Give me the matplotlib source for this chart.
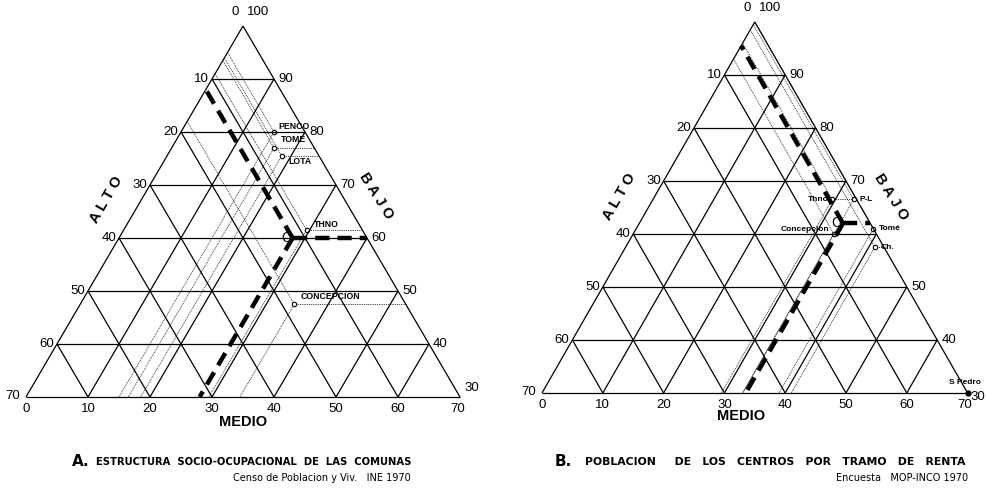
import numpy as np
import matplotlib
matplotlib.use("Agg")
import matplotlib.pyplot as plt

plt.rcParams['font.family'] = ['Liberation Sans', 'DejaVu Sans']

# A. estructura socio-ocupacional de las comunas (alto, medio, bajo in %)
comunas = ["PENCO", "TOME", "LOTA", "THNO", "CONCEPCION"]
alto_a = [5, 6.5, 6, 9, 18]
medio_a = [15, 16.5, 18.5, 29.5, 34.5]
bajo_a = [80, 77, 75.5, 61.5, 47.5]
media_a = (12, 28, 60)

# B. poblacion de los centros por tramo de renta
centros = ["Thno", "P-L", "Tomé", "Concepcion", "Ch.", "S Pedro"]
alto_b = [4, 0.5, 0, 7, 1.5, 0]
medio_b = [29.5, 33, 39, 33, 41, 70]
bajo_b = [66.5, 66.5, 61, 60, 57.5, 30]
media_b = (4.5, 33.5, 62)

ticks = [0, 10, 20, 30, 40, 50, 60, 70]
BMIN = 30   # diagram only shows bajo >= 30


def xy(a, m, b):
    a, m, b = np.asarray(a, float), np.asarray(m, float), np.asarray(b, float)
    return m + (b - BMIN) / 2.0, (b - BMIN) * np.sqrt(3) / 2.0


def line(ax, p, q, **kw):
    x0, y0 = xy(*p)
    x1, y1 = xy(*q)
    ax.plot([x0, x1], [y0, y1], **kw)


def note(ax, s, p, dx, dy, ha='center', va='center', **kw):
    ax.annotate(s, xy(*p), xytext=(dx, dy), textcoords='offset points', ha=ha, va=va, **kw)


def grid(ax):
    k = dict(color='black', lw=0.9, solid_capstyle='butt')
    line(ax, (70, 0, 30), (0, 70, 30), **k)
    line(ax, (70, 0, 30), (0, 0, 100), **k)
    line(ax, (0, 70, 30), (0, 0, 100), **k)
    for v in ticks[1:-1]:
        line(ax, (v, 0, 100 - v), (0, v, 100 - v), **k)      # bajo const
        line(ax, (v, 0, 100 - v), (v, 70 - v, 30), **k)      # alto const
        line(ax, (70 - v, v, 30), (0, v, 100 - v), **k)      # medio const


def tick_labels(ax, skip_right=(), corner30=(3, 2, 'left', 'bottom'), fs=9.5):
    for v in ticks[1:-1]:
        note(ax, str(v), (v, 0, 100 - v), -2, 0, ha='right', fontsize=fs)
        if 100 - v not in skip_right:
            note(ax, str(100 - v), (0, v, 100 - v), 3, 0, ha='left', fontsize=fs)
        note(ax, str(v), (70 - v, v, 30), 0, -4, va='top', fontsize=fs)
    note(ax, "0", (0, 0, 100), -3, 6, ha='right', va='bottom', fontsize=fs)
    note(ax, "100", (0, 0, 100), 3, 6, ha='left', va='bottom', fontsize=fs)
    note(ax, "70", (70, 0, 30), -4, 1, ha='right', fontsize=fs)
    note(ax, "0", (70, 0, 30), 0, -4, va='top', fontsize=fs)
    note(ax, "70", (0, 70, 30), -2, -4, va='top', fontsize=fs)
    dx, dy, ha, va = corner30
    note(ax, "30", (0, 70, 30), dx, dy, ha=ha, va=va, fontsize=fs)


def reading_lines(ax, al, me, ba):
    k = dict(color='black', lw=0.6, ls=(0, (1, 1.2)))
    for a, m, b in zip(al, me, ba):
        line(ax, (a, m, b), (a, 0, 100 - a), **k)
        line(ax, (a, m, b), (70 - m, m, 30), **k)
        line(ax, (a, m, b), (0, 100 - b, b), **k)
    x, y = xy(al, me, ba)
    ax.plot(x, y, 'o', ms=3.2, mfc='white', mec='black', mew=0.8)


def mean_lines(ax, c):
    a, m, b = c
    k = dict(color='black', lw=3.2, ls=(0, (3.2, 1.8)), dash_capstyle='butt')
    line(ax, c, (a, 0, 100 - a), **k)
    line(ax, c, (70 - m, m, 30), **k)
    line(ax, c, (0, 100 - b, b), **k)
    note(ax, "C", c, -1, 0, ha='right', fontsize=10)


def titles(ax, alto_off, bajo_off, medio_p, medio_off):
    note(ax, "A L T O", (35, 0, 65), *alto_off, rotation=60, fontsize=10.5, fontweight='bold')
    note(ax, "B A J O", (0, 35, 65), *bajo_off, rotation=-58, fontsize=10.5, fontweight='bold')
    note(ax, "MEDIO", medio_p, *medio_off, fontsize=10.5, fontweight='bold')


fig = plt.figure(figsize=(9.86, 4.88), dpi=100)

# ---------- A ----------
axA = fig.add_axes([0, 0, 0.5, 1])
axA.set_xlim(-4.19, 75.32)
axA.set_ylim(-14.87, 64.87)
axA.axis('off')
reading_lines(axA, alto_a, medio_a, bajo_a)
grid(axA)
mean_lines(axA, media_a)
tick_labels(axA)
offs_a = [(3, 1, 'bottom'), (5, 3, 'bottom'), (5, -4, 'center'), (5, 1, 'bottom'), (5, 2, 'bottom')]
for name, a, m, b, (dx, dy, va) in zip(comunas, alto_a, medio_a, bajo_a, offs_a):
    note(axA, name, (a, m, b), dx, dy, ha='left', va=va, fontsize=6.3, fontweight='bold')
titles(axA, (-20, 8.6), (18, 11), (35, 35, 30), (0, -18))

# ---------- B ----------
axB = fig.add_axes([0.5, 0, 0.5, 1])
axB.set_xlim(-8.06, 73.03)
axB.set_ylim(-15.52, 64.2)
axB.axis('off')
reading_lines(axB, alto_b[:-1], medio_b[:-1], bajo_b[:-1])
grid(axB)
mean_lines(axB, media_b)
tick_labels(axB, skip_right=(60,), corner30=(2, -3, 'left', 'center'))
offs_b = [(-3, 0, 'right', 'center'), (4, 0, 'left', 'center'), (4, 0, 'left', 'center'),
          (-3, 1, 'right', 'bottom'), (4, 0, 'left', 'center'), (-2, 5, 'center', 'bottom')]
for name, a, m, b, (dx, dy, ha, va) in zip(centros, alto_b, medio_b, bajo_b, offs_b):
    note(axB, name, (a, m, b), dx, dy, ha=ha, va=va, fontsize=6, fontweight='bold')
xs, ys = xy(alto_b[-1], medio_b[-1], bajo_b[-1])
axB.plot(xs, ys, 'o', ms=3.5, color='black')
titles(axB, (-21, 7.5), (21.6, 7.5), (36.5, 33.5, 30), (-3.6, -16.5))

# ---------- captions ----------
H = 488.0
W = 986.0
cap = dict(family='DejaVu Sans', va='center')
fig.text(72 / W, 1 - 462 / H, "A.", fontsize=11, fontweight='bold', ha='left', **cap)
fig.text(411 / W, 1 - 462 / H, "ESTRUCTURA  SOCIO-OCUPACIONAL  DE  LAS  COMUNAS",
         fontsize=7.2, fontweight='bold', ha='right', **cap)
fig.text(411 / W, 1 - 478 / H, "Censo de Poblacion y Viv.   INE 1970",
         fontsize=7, ha='right', **cap)
fig.text(555 / W, 1 - 462 / H, "B.", fontsize=11, fontweight='bold', ha='left', **cap)
fig.text(965 / W, 1 - 462 / H, "POBLACION     DE   LOS   CENTROS   POR   TRAMO   DE   RENTA",
         fontsize=7.8, fontweight='bold', ha='right', **cap)
fig.text(968 / W, 1 - 478 / H, "Encuesta   MOP-INCO 1970",
         fontsize=7, ha='right', **cap)

fig.savefig("out.png", dpi=100)
